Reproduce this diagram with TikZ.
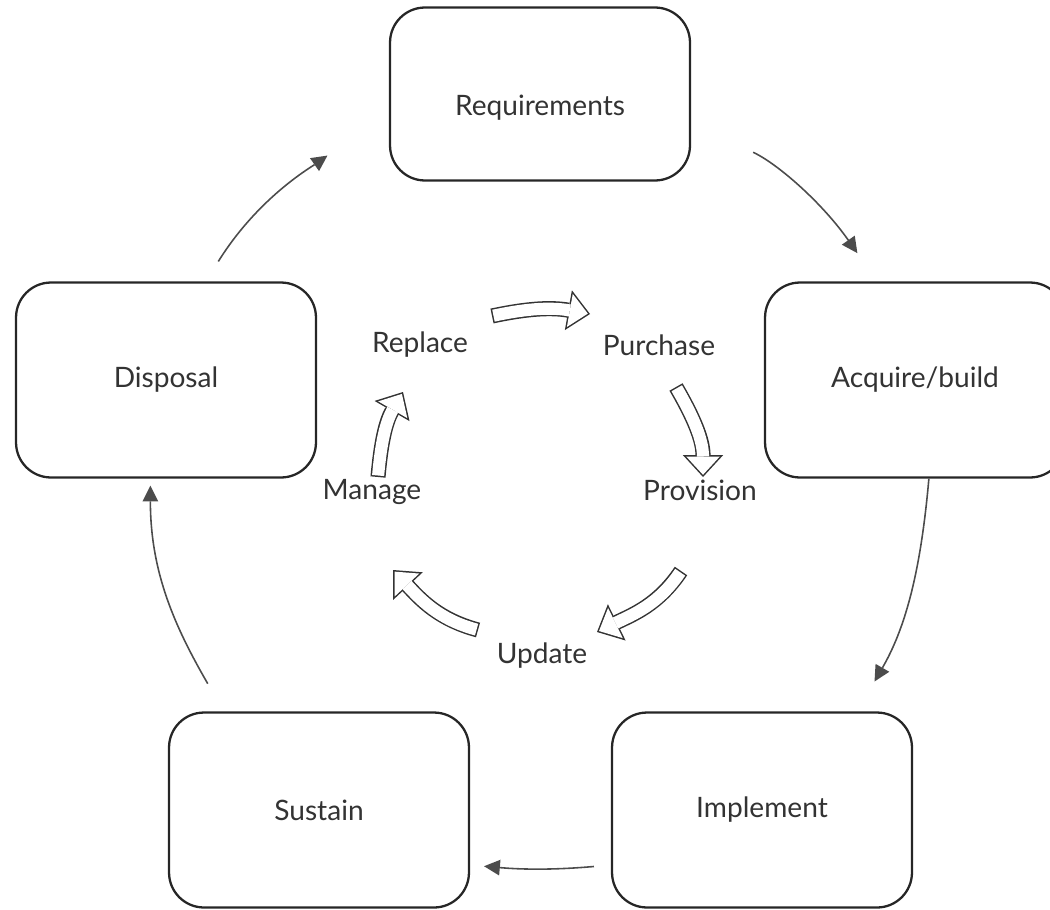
\documentclass[tikz,border=0pt]{standalone}
\usepackage{fontspec}
\setmainfont{Lato}
\usetikzlibrary{arrows.meta,positioning}

\begin{document}
\begin{tikzpicture}[x=0.02cm,y=-0.02cm,
  stage/.style={draw=black!85,line width=1.3pt,rounded corners=0.7cm,minimum width=6cm,minimum height=3.9cm,font=\fontsize{16}{19}\selectfont,text=black!80},
  lbl/.style={font=\fontsize{16}{19}\selectfont,text=black!80,inner sep=1pt},
  flow/.style={draw=black!70,line width=0.9pt,-{Triangle[width=9pt,length=9pt,line width=0pt]}},
  hollow/.style={preaction={draw=black!80,line width=8.6pt,shorten <=0pt,shorten >=0pt,-{Triangle[width=23pt,length=12.5pt,line width=0pt]}},
    draw=white,line width=6.9pt,shorten <=0.85pt,shorten >=1.26pt,-{Triangle[width=19.1pt,length=10.4pt,line width=0pt]}}]
  \clip (0,0) rectangle (1050,909);

  \node[stage,minimum height=3.46cm,text height=27pt] (req) at (540,94) {Requirements};
  \node[stage] (acq) at (915,380) {Acquire/build};
  \node[stage] (impl) at (762,810) {Implement};
  \node[stage] (sus) at (319,810) {Sustain};
  \node[stage] (disp) at (166,380) {Disposal};

  \node[lbl] (replace) at (420,345) {Replace};
  \node[lbl] (purchase) at (659,345) {Purchase};
  \node[lbl] (provision) at (700,490) {Provision};
  \node[lbl] (update) at (542,656) {Update};
  \node[lbl] (manage) at (372,492) {Manage};

  \draw[flow,shorten <=0.47cm,shorten >=1.5cm] (disp.68) to[out=58,in=215] (req.187);
  \draw[flow,shorten <=1.37cm,shorten >=0.69cm] (req.-11) to[out=-25,in=125] (acq.111);
  \draw[flow,shorten >=0.69cm] (acq.-82) to[out=-95,in=60] (impl.46);
  \draw[flow,shorten <=0.34cm,shorten >=0.28cm] (impl.200) to[out=185,in=-5] (sus.-20);
  \draw[flow,shorten <=0.64cm,shorten >=0.14cm] (sus.134) to[out=120,in=-90] (disp.261);

  \draw[hollow] ([shift={(72,-29)}]replace.center) to[out=12,in=170] ([shift={(-69,-31)}]purchase.center);
  \draw[hollow] ([shift={(17,42)}]purchase.center) to[out=-60,in=90] ([shift={(3,-13)}]provision.center);
  \draw[hollow] ([shift={(-19,81)}]provision.center) to[out=236,in=26] ([shift={(55,-24)}]update.center);
  \draw[hollow] ([shift={(-64,-26)}]update.center) to[out=165,in=-47] ([shift={(21,78)}]manage.center);
  \draw[hollow] ([shift={(6,-15)}]manage.center) to[out=85,in=240] ([shift={(-17,47)}]replace.center);
\end{tikzpicture}
\end{document}
